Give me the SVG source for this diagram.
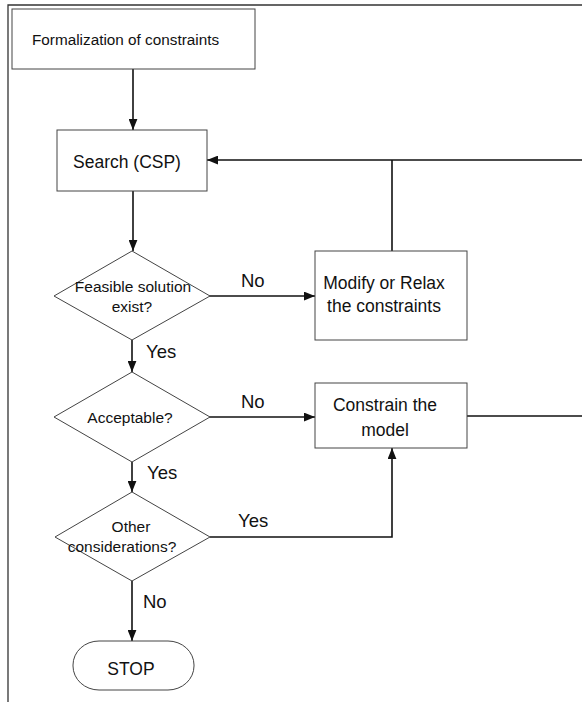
<svg xmlns="http://www.w3.org/2000/svg" width="582" height="702" viewBox="0 0 582 702">
<style>
.box{fill:#fff;stroke:#444;stroke-width:1}
.frame{fill:none;stroke:#333;stroke-width:1.3}
.conn{fill:none;stroke:#111;stroke-width:1.6}
.t{font-family:"Liberation Sans",Arial,sans-serif;fill:#111}
.bt{font-size:17.5px}
.dt{font-size:15.5px}
.ft{font-size:15.3px}
.lb{font-size:18.5px}
</style>
<defs>
<marker id="ah" viewBox="0 0 10 8" refX="10" refY="4" markerWidth="11" markerHeight="9" markerUnits="userSpaceOnUse" orient="auto">
<path d="M0,0 L10,4 L0,8 Z" fill="#111"/>
</marker>
</defs>
<rect width="582" height="702" fill="#fff"/>
<g id="frame">
<path class="frame" d="M8,702 V5 H582"/>
</g>
<g id="connectors">
<path class="conn" d="M133,69 V130" marker-end="url(#ah)"/>
<path class="conn" d="M133,191 V251" marker-end="url(#ah)"/>
<path class="conn" d="M582,160 H207" marker-end="url(#ah)"/>
<path class="conn" d="M392,251 V160"/>
<path class="conn" d="M209,296 H315" marker-end="url(#ah)"/>
<path class="conn" d="M132,340 V372" marker-end="url(#ah)"/>
<path class="conn" d="M209,417 H315" marker-end="url(#ah)"/>
<path class="conn" d="M467,416 H582"/>
<path class="conn" d="M132,462 V492" marker-end="url(#ah)"/>
<path class="conn" d="M210,537 H392 V448" marker-end="url(#ah)"/>
<path class="conn" d="M132,581 V641" marker-end="url(#ah)"/>
<text class="t lb" x="241" y="287">No</text>
<text class="t lb" x="146" y="358">Yes</text>
<text class="t lb" x="241" y="408">No</text>
<text class="t lb" x="147" y="479">Yes</text>
<text class="t lb" x="238" y="527">Yes</text>
<text class="t lb" x="143" y="608">No</text>
</g>
<g id="formalization">
<rect class="box" x="12" y="9" width="243" height="60"/>
<text class="t ft" x="32" y="45">Formalization of constraints</text>
</g>
<g id="search">
<rect class="box" x="57" y="130" width="150" height="61"/>
<text class="t bt" x="73" y="168">Search (CSP)</text>
</g>
<g id="feasible">
<path class="box" d="M132,251 L210,296 L132,340 L54,296 Z"/>
<text class="t dt" x="133" y="292" text-anchor="middle">Feasible solution</text>
<text class="t dt" x="132" y="312" text-anchor="middle">exist?</text>
</g>
<g id="modify">
<rect class="box" x="315" y="251" width="152" height="89"/>
<text class="t bt" x="384" y="289" text-anchor="middle">Modify or Relax</text>
<text class="t bt" x="384" y="312" text-anchor="middle">the constraints</text>
</g>
<g id="acceptable">
<path class="box" d="M132,372 L210,417 L132,462 L54,417 Z"/>
<text class="t dt" x="130" y="423" text-anchor="middle">Acceptable?</text>
</g>
<g id="constrain">
<rect class="box" x="315" y="383" width="152" height="65"/>
<text class="t bt" x="385" y="411" text-anchor="middle">Constrain the</text>
<text class="t bt" x="385" y="436" text-anchor="middle">model</text>
</g>
<g id="other">
<path class="box" d="M132,492 L210,537 L132,581 L55,537 Z"/>
<text class="t dt" x="131" y="532" text-anchor="middle">Other</text>
<text class="t dt" x="122" y="552" text-anchor="middle">considerations?</text>
</g>
<g id="stop">
<rect class="box" x="73" y="641" width="121" height="49" rx="26" ry="24"/>
<text class="t bt" x="131" y="675" text-anchor="middle">STOP</text>
</g>
</svg>
